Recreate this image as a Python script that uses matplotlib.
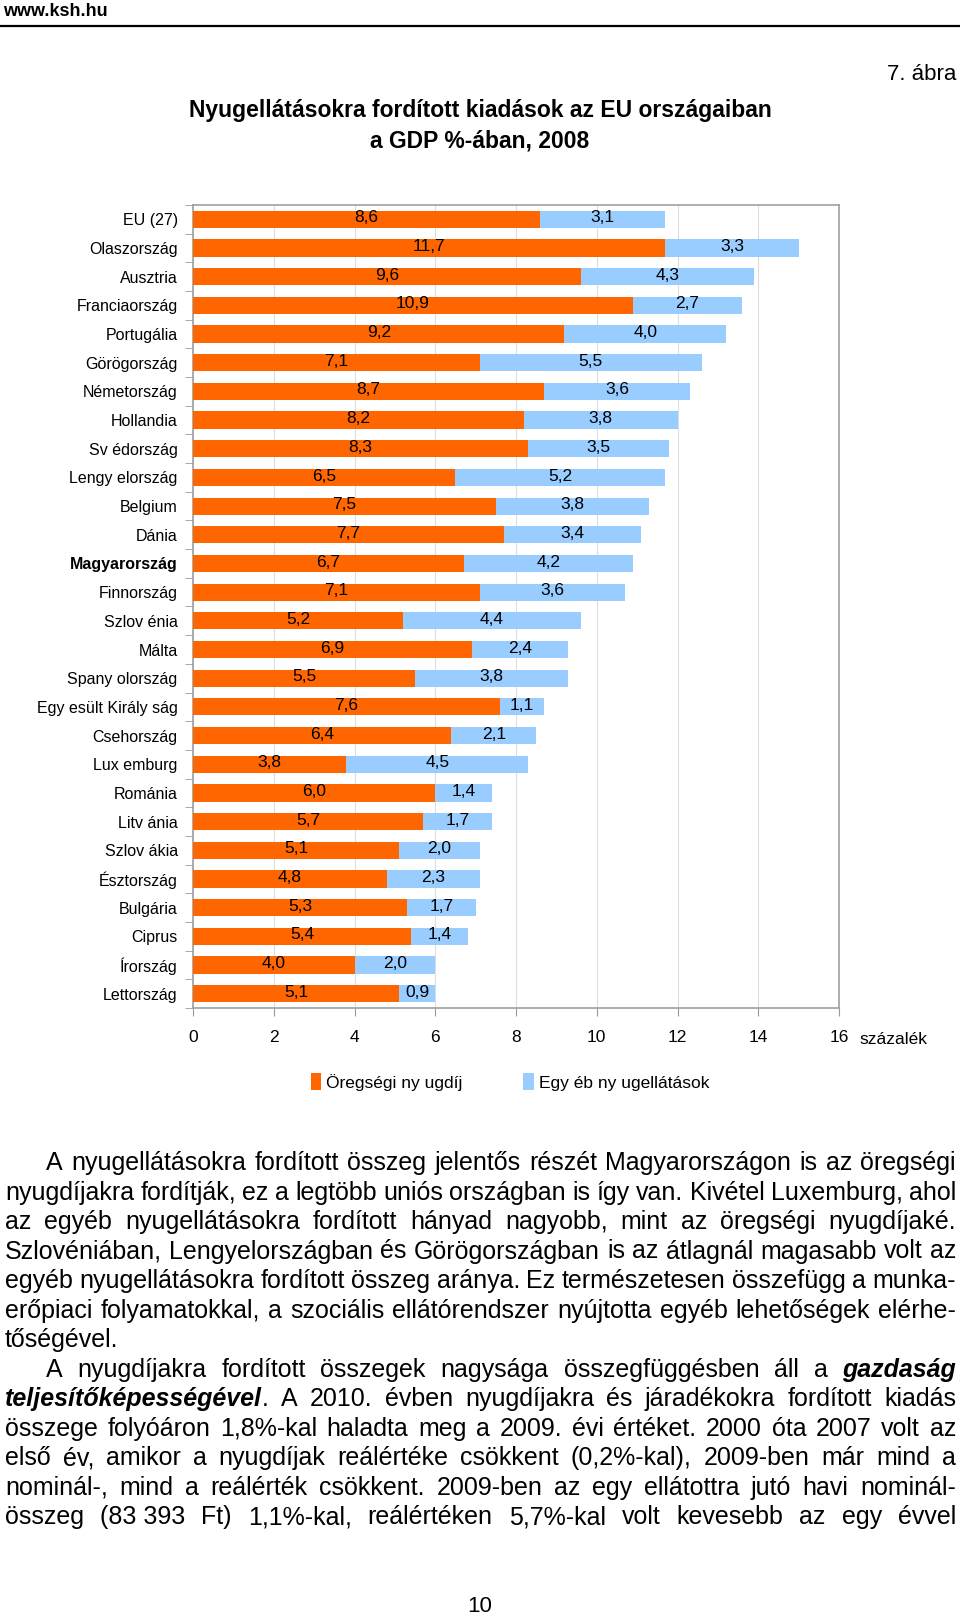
import matplotlib
matplotlib.use("Agg")
import matplotlib.pyplot as plt
from matplotlib.patches import Patch
from matplotlib.lines import Line2D
import numpy as np

FONT = ['Liberation Sans Narrow', 'Liberation Sans', 'DejaVu Sans']
plt.rcParams['font.family'] = FONT

countries = ["EU (27)", "Olaszország", "Ausztria", "Franciaország", "Portugália",
             "Görögország", "Németország", "Hollandia", "Sv édország", "Lengy elország",
             "Belgium", "Dánia", "Magyarország", "Finnország", "Szlov énia", "Málta",
             "Spany olország", "Egy esült Király ság", "Csehország", "Lux emburg",
             "Románia", "Litv ánia", "Szlov ákia", "Észtország", "Bulgária", "Ciprus",
             "Írország", "Lettország"]
old_age = [8.6, 11.7, 9.6, 10.9, 9.2, 7.1, 8.7, 8.2, 8.3, 6.5, 7.5, 7.7, 6.7, 7.1,
           5.2, 6.9, 5.5, 7.6, 6.4, 3.8, 6.0, 5.7, 5.1, 4.8, 5.3, 5.4, 4.0, 5.1]
other = [3.1, 3.3, 4.3, 2.7, 4.0, 5.5, 3.6, 3.8, 3.5, 5.2, 3.8, 3.4, 4.2, 3.6,
         4.4, 2.4, 3.8, 1.1, 2.1, 4.5, 1.4, 1.7, 2.0, 2.3, 1.7, 1.4, 2.0, 0.9]
series_names = ["Öregségi ny ugdíj", "Egy éb ny ugellátások"]
xticks = [0, 2, 4, 6, 8, 10, 12, 14, 16]

W, H = 960, 1617
ORANGE = "#FF6600"
BLUE = "#99CCFF"

fig = plt.figure(figsize=(W / 100, H / 100), dpi=100)


def fx(x):
    return x / W


def fy(y):
    return 1 - y / H


# header
fig.text(fx(3), fy(11), "www.ksh.hu", fontsize=13, fontweight='bold', va='center', ha='left')
fig.add_artist(Line2D([0, 1], [fy(26), fy(26)], color='black', lw=1.6))
fig.text(fx(956), fy(75), "7. ábra", fontsize=16, va='center', ha='right')
fig.text(0.5, fy(111), "Nyugellátásokra fordított kiadások az EU országaiban",
         fontsize=16.5, fontweight='bold', ha='center', va='center')
fig.text(0.5, fy(141), "a GDP %-ában, 2008",
         fontsize=16.5, fontweight='bold', ha='center', va='center')

# chart
ax = fig.add_axes([fx(193), fy(1008), fx(839) - fx(193), fy(205) - fy(1008)])
y = np.arange(len(countries))
bars1 = ax.barh(y, old_age, height=0.6, color=ORANGE, zorder=3)
bars2 = ax.barh(y, other, left=old_age, height=0.6, color=BLUE, zorder=3)

for b, v in zip(bars1, old_age):
    ax.text(b.get_x() + b.get_width() / 2, b.get_y() + b.get_height() / 2 - 0.05,
            f"{v:.1f}".replace('.', ','), ha='center', va='center', fontsize=12.5, zorder=4)
for b, v in zip(bars2, other):
    ax.text(b.get_x() + b.get_width() / 2, b.get_y() + b.get_height() / 2 - 0.05,
            f"{v:.1f}".replace('.', ','), ha='center', va='center', fontsize=12.5, zorder=4)

ax.set_xlim(0, 16)
ax.set_ylim(len(countries) - 0.5, -0.5)
ax.set_xticks(xticks)
ax.set_xticklabels([str(t) for t in xticks], fontsize=12.5)
ax.set_yticks(y)
ax.set_yticklabels(countries, fontsize=11.5)
ax.set_yticks(np.arange(-0.5, len(countries), 1), minor=True)
ax.tick_params(axis='y', which='major', length=0, pad=11)
ax.tick_params(axis='y', which='minor', length=6, color='#999999', direction='out')
ax.tick_params(axis='x', length=6, color='#999999', direction='out', pad=10)
for lab in ax.get_yticklabels():
    if lab.get_text() == "Magyarország":
        lab.set_fontweight('bold')
ax.grid(True, axis='x', color='#dddddd', lw=0.8, zorder=0)
for s in ax.spines.values():
    s.set_color('#a0a0a0')
    s.set_linewidth(1.2)

fig.text(fx(859), fy(1039), "százalék", fontsize=12.5, ha='left', va='center')

handles = [Patch(facecolor=ORANGE), Patch(facecolor=BLUE)]
fig.legend(handles, series_names, loc='center', bbox_to_anchor=(fx(510), fy(1082)),
           ncol=2, frameon=False, fontsize=12.5, handlelength=0.6, handleheight=1.1,
           handletextpad=0.3, columnspacing=3.5)

# body text, justified
BODY_SIZE = 18
lines = [
    (True, True, "A nyugellátásokra fordított összeg jelentős részét Magyarországon is az öregségi"),
    (False, True, "nyugdíjakra fordítják, ez a legtöbb uniós országban is így van. Kivétel Luxemburg, ahol"),
    (False, True, "az egyéb nyugellátásokra fordított hányad nagyobb, mint az öregségi nyugdíjaké."),
    (False, True, "Szlovéniában, Lengyelországban és Görögországban is az átlagnál magasabb volt az"),
    (False, True, "egyéb nyugellátásokra fordított összeg aránya. Ez természetesen összefügg a munka-"),
    (False, True, "erőpiaci folyamatokkal, a szociális ellátórendszer nyújtotta egyéb lehetőségek elérhe-"),
    (False, False, "tőségével."),
    (True, True, "A nyugdíjakra fordított összegek nagysága összegfüggésben áll a *gazdaság*"),
    (False, True, "*teljesítőképességével*. A 2010. évben nyugdíjakra és járadékokra fordított kiadás"),
    (False, True, "összege folyóáron 1,8%-kal haladta meg a 2009. évi értéket. 2000 óta 2007 volt az"),
    (False, True, "első év, amikor a nyugdíjak reálértéke csökkent (0,2%-kal), 2009-ben már mind a"),
    (False, True, "nominál-, mind a reálérték csökkent. 2009-ben az egy ellátottra jutó havi nominál-"),
    (False, True, "összeg (83\u00a0393 Ft) 1,1%-kal, reálértéken 5,7%-kal volt kevesebb az egy évvel"),
]

renderer = fig.canvas.get_renderer()
y0, dy = 1170, 29.5
for i, (indent, justify, line) in enumerate(lines):
    ypos = fy(y0 + i * dy)
    x_start = 46 if indent else 5
    x_end = 956
    words = []
    for word in line.split(' '):
        segs = []
        for k, part in enumerate(word.split('*')):
            if not part:
                continue
            bi = k % 2 == 1
            t = fig.text(0, ypos, part, fontsize=BODY_SIZE, ha='left', va='baseline',
                         fontweight='bold' if bi else 'normal',
                         style='italic' if bi else 'normal')
            segs.append((t, t.get_window_extent(renderer).width))
        words.append(segs)
    total = sum(w for segs in words for _, w in segs)
    if justify and len(words) > 1:
        gap = (x_end - x_start - total) / (len(words) - 1)
    else:
        gap = BODY_SIZE * 0.25
    x = x_start
    for segs in words:
        for t, w in segs:
            t.set_x(fx(x))
            x += w
        x += gap

fig.text(0.5, fy(1606), "10", fontsize=16, ha='center', va='center')

fig.savefig("out.png", dpi=100)
